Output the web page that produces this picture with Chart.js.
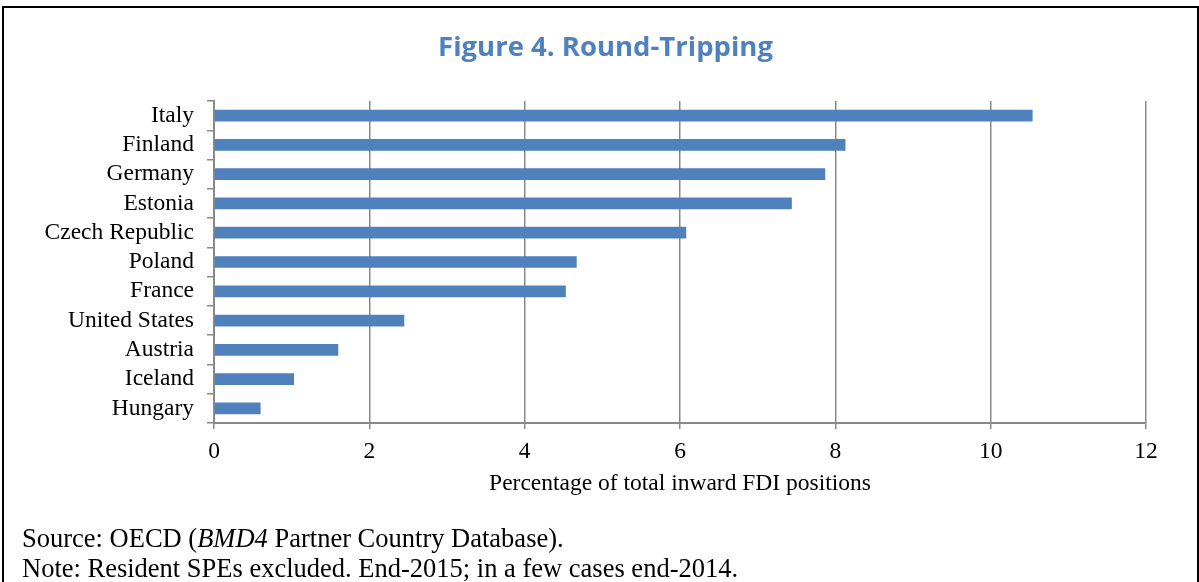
<!DOCTYPE html>
<html>
<head>
<meta charset="utf-8">
<script src="https://cdn.jsdelivr.net/npm/chart.js@4"></script>
<style>
  body { margin: 0; background: #fff; }
  .frame {
    position: absolute; left: 2px; top: 6px; width: 1193px; height: 600px;
    border: 2px solid #000; border-bottom: none;
  }
  .wrap { position: absolute; left: 0; top: 0; width: 1199px; height: 582px; }
  .title {
    position: absolute; left: 0; top: 29px; width: 1211px; text-align: center;
    font-family: "Open Sans", sans-serif; font-weight: bold;
    font-size: 27.5px; line-height: 33px; color: #4f81bd;
  }
  .notes {
    position: absolute; left: 22px; top: 523px;
    font-family: "Liberation Serif", "Times New Roman", serif;
    font-size: 26.5px; line-height: 30px; color: #000; white-space: nowrap;
  }
</style>
</head>
<body>
<div class="frame"></div>
<div class="wrap"><canvas id="roundTrip"></canvas></div>
<div class="title">Figure 4. Round-Tripping</div>
<div class="notes">
  <div>Source: OECD (<i>BMD4</i> Partner Country Database).</div>
  <div>Note: Resident SPEs excluded. End-2015; in a few cases end-2014.</div>
</div>
<script>
const countries = ["Italy", "Finland", "Germany", "Estonia", "Czech Republic", "Poland",
  "France", "United States", "Austria", "Iceland", "Hungary"];
const shares = [10.54, 8.13, 7.87, 7.44, 6.08, 4.67, 4.53, 2.45, 1.6, 1.03, 0.6];
const xTicks = [0, 2, 4, 6, 8, 10, 12];

const gridGray = "#898989";
const serif = "'Liberation Serif', 'Times New Roman', serif";

const ctx = document.getElementById("roundTrip").getContext("2d");
const roundTripChart = new Chart(ctx, {
  type: "bar",
  data: {
    labels: countries,
    datasets: [
      {
        label: "Round-tripping",
        data: shares,
        backgroundColor: "#4f81bd",
        borderWidth: 0,
        categoryPercentage: 1,
        barPercentage: 0.4,
      },
    ],
  },
  options: {
    indexAxis: "y",
    responsive: true,
    maintainAspectRatio: false,
    animation: false,
    layout: {
      padding: { left: 0, right: 53, top: 101, bottom: 84 },
    },
    scales: {
      x: {
        min: xTicks[0],
        max: xTicks[xTicks.length - 1],
        afterBuildTicks: (scale) => {
          scale.ticks = xTicks.map((v) => ({ value: v }));
        },
        afterFit: (scale) => {
          scale.height = 75;
        },
        grid: {
          color: gridGray,
          lineWidth: 1.5,
          tickLength: 6,
        },
        border: { color: gridGray, width: 2 },
        ticks: {
          color: "#000",
          padding: 9,
          maxRotation: 0,
          font: { family: serif, size: 23.5 },
        },
        title: {
          display: true,
          text: "Percentage of total inward FDI positions",
          color: "#000",
          padding: { top: 0, bottom: 0 },
          font: { family: serif, size: 23.5 },
        },
      },
      y: {
        afterFit: (scale) => {
          scale.width = 214;
        },
        grid: {
          offset: true,
          drawOnChartArea: false,
          color: gridGray,
          lineWidth: 1.5,
          tickLength: 7,
        },
        border: { color: gridGray, width: 2 },
        ticks: {
          color: "#000",
          padding: 13,
          autoSkip: false,
          font: { family: serif, size: 23.5 },
        },
      },
    },
    plugins: {
      legend: { display: false },
      tooltip: { enabled: false },
    },
  },
});
</script>
</body>
</html>
